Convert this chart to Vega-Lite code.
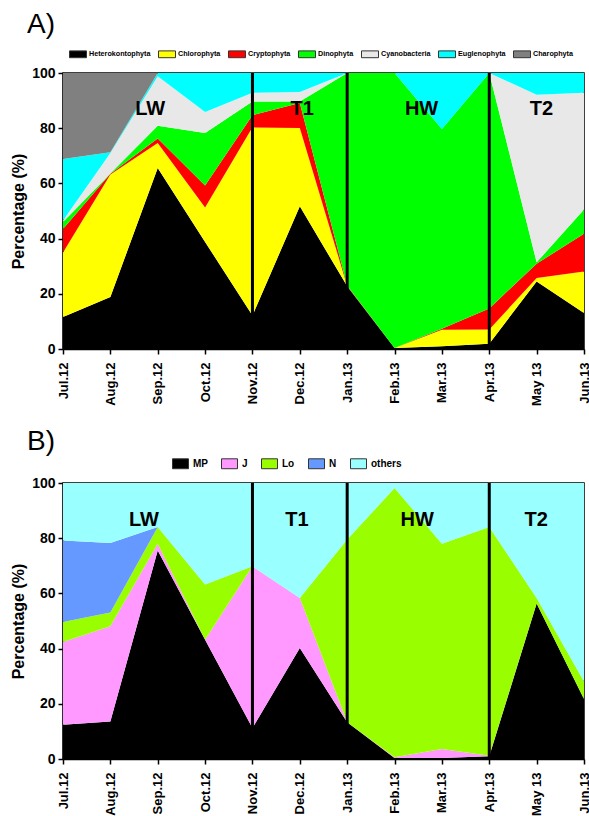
{
  "$schema": "https://vega.github.io/schema/vega-lite/v6.json",
  "padding": {"left": 9, "top": 10, "right": 4, "bottom": 0},
  "spacing": 20,
  "resolve": {"scale": {"color": "independent"}, "legend": {"color": "independent"}},
  "config": {
    "font": "Liberation Sans",
    "view": {"stroke": "black", "strokeWidth": 1.5},
    "axis": {"grid": false, "domainColor": "black", "domainWidth": 1.5, "tickColor": "black", "tickWidth": 1.5, "tickSize": 5, "labelColor": "black", "labelFontWeight": "bold", "titleColor": "black"},
    "title": {"color": "black"}
  },
  "datasets": {
    "phyto": [
      {"m": 0, "Heterokontophyta": 11.6, "Chlorophyta": 23.4, "Cryptophyta": 8.5, "Dinophyta": 2.5, "Cyanobacteria": 0.6, "Euglenophyta": 22.2, "Charophyta": 31.2},
      {"m": 1, "Heterokontophyta": 18.8, "Chlorophyta": 44.4, "Cryptophyta": 0.3, "Dinophyta": 0.1, "Cyanobacteria": 7.4, "Euglenophyta": 0.3, "Charophyta": 28.7},
      {"m": 2, "Heterokontophyta": 65.6, "Chlorophyta": 9.0, "Cryptophyta": 1.7, "Dinophyta": 4.6, "Cyanobacteria": 17.9, "Euglenophyta": 1.2, "Charophyta": 0},
      {"m": 3, "Heterokontophyta": 38.8, "Chlorophyta": 12.5, "Cryptophyta": 7.9, "Dinophyta": 19.1, "Cyanobacteria": 7.6, "Euglenophyta": 14.1, "Charophyta": 0},
      {"m": 4, "Heterokontophyta": 12.1, "Chlorophyta": 68.2, "Cryptophyta": 4.4, "Dinophyta": 5.0, "Cyanobacteria": 3.1, "Euglenophyta": 7.2, "Charophyta": 0},
      {"m": 5, "Heterokontophyta": 51.7, "Chlorophyta": 28.4, "Cryptophyta": 9.0, "Dinophyta": 0.6, "Cyanobacteria": 3.4, "Euglenophyta": 6.9, "Charophyta": 0},
      {"m": 6, "Heterokontophyta": 22.7, "Chlorophyta": 0.1, "Cryptophyta": 0.2, "Dinophyta": 77.0, "Cyanobacteria": 0, "Euglenophyta": 0, "Charophyta": 0},
      {"m": 7, "Heterokontophyta": 0.4, "Chlorophyta": 0, "Cryptophyta": 0, "Dinophyta": 99.6, "Cyanobacteria": 0, "Euglenophyta": 0, "Charophyta": 0},
      {"m": 8, "Heterokontophyta": 1.0, "Chlorophyta": 6.0, "Cryptophyta": 0.3, "Dinophyta": 72.4, "Cyanobacteria": 0, "Euglenophyta": 20.3, "Charophyta": 0},
      {"m": 9, "Heterokontophyta": 1.9, "Chlorophyta": 5.2, "Cryptophyta": 7.6, "Dinophyta": 85.3, "Cyanobacteria": 0, "Euglenophyta": 0, "Charophyta": 0},
      {"m": 10, "Heterokontophyta": 24.5, "Chlorophyta": 1.2, "Cryptophyta": 5.2, "Dinophyta": 0.5, "Cyanobacteria": 60.7, "Euglenophyta": 7.9, "Charophyta": 0},
      {"m": 11, "Heterokontophyta": 13.0, "Chlorophyta": 15.1, "Cryptophyta": 13.7, "Dinophyta": 8.7, "Cyanobacteria": 42.3, "Euglenophyta": 7.2, "Charophyta": 0}
    ],
    "phytoGroups": [
      {"key": "Heterokontophyta", "r": 1},
      {"key": "Chlorophyta", "r": 2},
      {"key": "Cryptophyta", "r": 3},
      {"key": "Dinophyta", "r": 4},
      {"key": "Cyanobacteria", "r": 5},
      {"key": "Euglenophyta", "r": 6},
      {"key": "Charophyta", "r": 7}
    ],
    "zoo": [
      {"m": 0, "MP": 12.4, "J": 30.0, "Lo": 7.2, "N": 29.6, "others": 20.8},
      {"m": 1, "MP": 13.6, "J": 34.5, "Lo": 5.0, "N": 25.2, "others": 21.7},
      {"m": 2, "MP": 75.5, "J": 2.5, "Lo": 6.1, "N": 0, "others": 15.9},
      {"m": 3, "MP": 43.2, "J": 0, "Lo": 20.0, "N": 0, "others": 36.8},
      {"m": 4, "MP": 11.2, "J": 58.6, "Lo": 0, "N": 0, "others": 30.2},
      {"m": 5, "MP": 40.2, "J": 18.1, "Lo": 0, "N": 0, "others": 41.7},
      {"m": 6, "MP": 13.3, "J": 0, "Lo": 66.2, "N": 0, "others": 20.5},
      {"m": 7, "MP": 0.4, "J": 0.2, "Lo": 97.6, "N": 0, "others": 1.8},
      {"m": 8, "MP": 0.4, "J": 3.2, "Lo": 74.4, "N": 0, "others": 22.0},
      {"m": 9, "MP": 1.0, "J": 0.2, "Lo": 82.9, "N": 0, "others": 15.9},
      {"m": 10, "MP": 56.3, "J": 0, "Lo": 2.0, "N": 0, "others": 41.7},
      {"m": 11, "MP": 21.7, "J": 0, "Lo": 6.4, "N": 0, "others": 71.9}
    ],
    "zooGroups": [
      {"key": "MP", "r": 1},
      {"key": "J", "r": 2},
      {"key": "Lo", "r": 3},
      {"key": "N", "r": 4},
      {"key": "others", "r": 5}
    ],
    "dividers": [{"m": 4}, {"m": 6}, {"m": 9}],
    "phasesA": [
      {"m": 1.84, "y": 87, "t": "LW"},
      {"m": 5.05, "y": 87, "t": "T1"},
      {"m": 7.57, "y": 87, "t": "HW"},
      {"m": 10.1, "y": 87, "t": "T2"}
    ],
    "phasesB": [
      {"m": 1.71, "y": 86.6, "t": "LW"},
      {"m": 4.94, "y": 86.6, "t": "T1"},
      {"m": 7.48, "y": 86.6, "t": "HW"},
      {"m": 9.99, "y": 86.6, "t": "T2"}
    ]
  },
  "vconcat": [
    {
      "width": 521,
      "height": 276,
      "title": {"text": "A)", "anchor": "start", "frame": "group", "dx": -36, "fontSize": 28, "fontWeight": "normal", "offset": 6},
      "layer": [
        {
          "data": {"name": "phyto"},
          "transform": [
            {"fold": ["Heterokontophyta", "Chlorophyta", "Cryptophyta", "Dinophyta", "Cyanobacteria", "Euglenophyta", "Charophyta"]},
            {"lookup": "key", "from": {"data": {"name": "phytoGroups"}, "key": "key", "fields": ["r"]}}
          ],
          "mark": {"type": "area", "interpolate": "linear"},
          "encoding": {
            "x": {"field": "m", "type": "quantitative", "scale": {"domain": [0, 11], "nice": false, "zero": false},
              "axis": {"title": null, "values": [0,1,2,3,4,5,6,7,8,9,10,11], "labelAngle": -90, "labelFontSize": 13, "labelPadding": 8,
                "labelExpr": "['Jul.12','Aug.12','Sep.12','Oct.12','Nov.12','Dec.12','Jan.13','Feb.13','Mar.13','Apr.13','May 13','Jun.13'][datum.value]"}},
            "y": {"field": "value", "type": "quantitative", "stack": "zero", "scale": {"domain": [0, 100], "nice": false},
              "axis": {"title": "Percentage (%)", "values": [0,20,40,60,80,100], "labelFontSize": 14, "labelPadding": 3, "titleFontSize": 16, "titleFontWeight": "bold", "titlePadding": 5}},
            "color": {"field": "key", "type": "nominal",
              "scale": {"domain": ["Heterokontophyta", "Chlorophyta", "Cryptophyta", "Dinophyta", "Cyanobacteria", "Euglenophyta", "Charophyta"],
                "range": ["#000000", "#ffff00", "#ff0000", "#00ff00", "#e8e8e8", "#00ffff", "#808080"]},
              "legend": {"orient": "none", "legendX": 6, "legendY": -28, "direction": "horizontal", "title": null, "padding": 0,
                "symbolType": "M-1,-0.4H1V0.4H-1Z", "symbolSize": 289, "symbolStrokeColor": "#333333", "symbolStrokeWidth": 1,
                "labelFontSize": 7.2, "labelFontWeight": "bold", "labelColor": "black", "labelOffset": 2, "columnPadding": 5}},
            "order": {"field": "r", "type": "quantitative", "sort": "ascending"}
          }
        },
        {
          "data": {"name": "dividers"},
          "mark": {"type": "rule", "color": "black", "strokeWidth": 3},
          "encoding": {"x": {"field": "m", "type": "quantitative"}}
        },
        {
          "data": {"name": "phasesA"},
          "mark": {"type": "text", "fontSize": 20, "fontWeight": "bold", "color": "black"},
          "encoding": {"x": {"field": "m", "type": "quantitative"}, "y": {"field": "y", "type": "quantitative"}, "text": {"field": "t"}}
        }
      ]
    },
    {
      "width": 521,
      "height": 276,
      "title": {"text": "B)", "anchor": "start", "frame": "group", "dx": -36, "fontSize": 28, "fontWeight": "normal", "offset": -1},
      "layer": [
        {
          "data": {"name": "zoo"},
          "transform": [
            {"fold": ["MP", "J", "Lo", "N", "others"]},
            {"lookup": "key", "from": {"data": {"name": "zooGroups"}, "key": "key", "fields": ["r"]}}
          ],
          "mark": {"type": "area", "interpolate": "linear"},
          "encoding": {
            "x": {"field": "m", "type": "quantitative", "scale": {"domain": [0, 11], "nice": false, "zero": false},
              "axis": {"title": null, "values": [0,1,2,3,4,5,6,7,8,9,10,11], "labelAngle": -90, "labelFontSize": 13, "labelPadding": 8,
                "labelExpr": "['Jul.12','Aug.12','Sep.12','Oct.12','Nov.12','Dec.12','Jan.13','Feb.13','Mar.13','Apr.13','May 13','Jun.13'][datum.value]"}},
            "y": {"field": "value", "type": "quantitative", "stack": "zero", "scale": {"domain": [0, 100], "nice": false},
              "axis": {"title": "Percentage (%)", "values": [0,20,40,60,80,100], "labelFontSize": 14, "labelPadding": 3, "titleFontSize": 16, "titleFontWeight": "bold", "titlePadding": 5}},
            "color": {"field": "key", "type": "nominal",
              "scale": {"domain": ["MP", "J", "Lo", "N", "others"],
                "range": ["#000000", "#ff99ff", "#99ff00", "#6699ff", "#99ffff"]},
              "legend": {"orient": "none", "legendX": 109, "legendY": -28, "direction": "horizontal", "title": null, "padding": 0,
                "symbolType": "M-1,-0.62H1V0.62H-1Z", "symbolSize": 256, "symbolStrokeColor": "#333333", "symbolStrokeWidth": 1,
                "labelFontSize": 10, "labelFontWeight": "bold", "labelColor": "black", "labelOffset": 4, "columnPadding": 11}},
            "order": {"field": "r", "type": "quantitative", "sort": "ascending"}
          }
        },
        {
          "data": {"name": "dividers"},
          "mark": {"type": "rule", "color": "black", "strokeWidth": 3},
          "encoding": {"x": {"field": "m", "type": "quantitative"}}
        },
        {
          "data": {"name": "phasesB"},
          "mark": {"type": "text", "fontSize": 20, "fontWeight": "bold", "color": "black"},
          "encoding": {"x": {"field": "m", "type": "quantitative"}, "y": {"field": "y", "type": "quantitative"}, "text": {"field": "t"}}
        }
      ]
    }
  ]
}
